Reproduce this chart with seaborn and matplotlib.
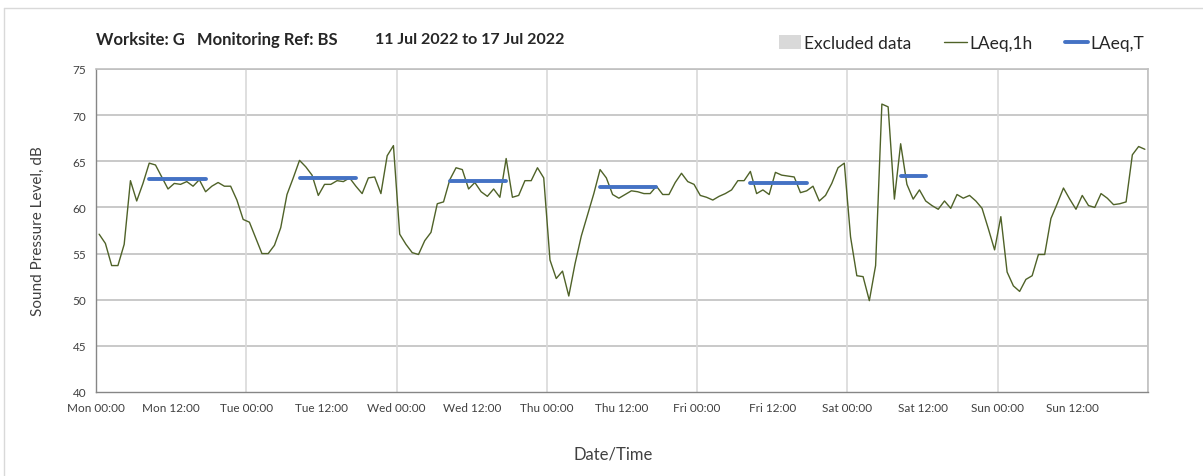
import numpy as np
import pandas as pd
import matplotlib
matplotlib.use("Agg")
import matplotlib.pyplot as plt
from matplotlib.patches import Patch
from matplotlib.lines import Line2D
import seaborn as sns

# Hourly LAeq,1h (dB), Mon 11 Jul 2022 00:00 .. Sun 17 Jul 2022 23:00
laeq_1h = [
    57.1, 56.1, 53.7, 53.7, 56.0, 62.9, 60.7, 62.6, 64.8, 64.6, 63.3, 62.0,
    62.6, 62.5, 62.8, 62.3, 63.0, 61.7, 62.3, 62.7, 62.3, 62.3, 60.8, 58.7,
    58.4, 56.7, 55.0, 55.0, 55.9, 57.8, 61.4, 63.2, 65.1, 64.4, 63.5, 61.3,
    62.5, 62.5, 62.9, 62.8, 63.2, 62.3, 61.5, 63.2, 63.3, 61.5, 65.6, 66.7,
    57.1, 56.0, 55.1, 54.9, 56.4, 57.3, 60.4, 60.6, 63.0, 64.3, 64.1, 62.0,
    62.7, 61.7, 61.2, 62.0, 61.1, 65.3, 61.1, 61.3, 62.9, 62.9, 64.3, 63.2,
    54.3, 52.3, 53.1, 50.4, 53.9, 56.9, 59.2, 61.5, 64.1, 63.2, 61.4, 61.0,
    61.4, 61.8, 61.7, 61.5, 61.5, 62.3, 61.4, 61.4, 62.7, 63.7, 62.8, 62.5,
    61.3, 61.1, 60.8, 61.2, 61.5, 61.9, 62.9, 62.9, 63.9, 61.5, 61.9, 61.4,
    63.8, 63.5, 63.4, 63.3, 61.6, 61.8, 62.3, 60.7, 61.3, 62.6, 64.3, 64.8,
    56.8, 52.6, 52.5, 49.9, 53.7, 71.2, 70.9, 60.9, 66.9, 62.5, 60.9, 61.9,
    60.7, 60.2, 59.8, 60.7, 59.9, 61.4, 61.0, 61.3, 60.7, 59.9, 57.7, 55.4,
    59.0, 53.0, 51.5, 50.9, 52.2, 52.6, 54.9, 54.9, 58.8, 60.4, 62.1, 60.9,
    59.8, 61.3, 60.2, 60.0, 61.5, 61.0, 60.3, 60.4, 60.6, 65.7, 66.6, 66.3,
]

# Daytime LAeq,T per day and the hours it covers
laeq_t_day = [0, 1, 2, 3, 4, 5]  # Mon..Sat
laeq_t_value = [63.1, 63.2, 62.9, 62.2, 62.7, 63.4]
laeq_t_from = [8, 8, 8, 8, 8, 8]
laeq_t_to = [17, 17, 17, 17, 17, 12]

start = pd.Timestamp("2022-07-11 00:00")
tick_times = pd.date_range(start, periods=15, freq="12h")
tick_labels = [t.strftime("%a %H:%M") for t in tick_times[:-1]] + [""]

# Excel draws each hourly value in the middle of its category
times = start + pd.Timedelta(minutes=30) + pd.to_timedelta(np.arange(len(laeq_1h)), unit="h")
df = pd.DataFrame({"time": times, "level": laeq_1h})

rows = []
for d, v, h0, h1 in zip(laeq_t_day, laeq_t_value, laeq_t_from, laeq_t_to):
    for h in range(h0, h1 + 1):
        rows.append({"day": d, "time": times[d * 24 + h], "level": v})
df_t = pd.DataFrame(rows)

sns.set_style("white")
plt.rcParams["font.family"] = ["Lato", "DejaVu Sans"]

fig = plt.figure(figsize=(12.03, 4.77), dpi=100)
ax = fig.add_axes([96 / 1203, 1 - 393 / 477, 1052 / 1203, 323 / 477])

# Gridlines
for y in range(45, 76, 5):
    ax.axhline(y, color="#c0c0c0", lw=1.2, zorder=0)
for t in pd.date_range(start, periods=8, freq="D")[1:]:
    ax.axvline(t, color="#d9d9d9", lw=1.2, zorder=0)

sns.lineplot(data=df, x="time", y="level", color="#4f6228", lw=1.0, ax=ax, zorder=3)
sns.lineplot(data=df_t, x="time", y="level", units="day", estimator=None,
             color="#4472c4", lw=2.8, ax=ax, zorder=4)

ax.set_xlim(start, start + pd.Timedelta(days=7))
ax.set_ylim(40, 75)
ax.set_yticks(range(40, 76, 5))
ax.set_xticks(tick_times)
ax.set_xticklabels(tick_labels)
ax.tick_params(axis="both", direction="out", length=4, width=1, color="#868686",
               labelsize=8.5, labelcolor="#404040", pad=3)

for side in ["left", "bottom"]:
    ax.spines[side].set_color("#868686")
    ax.spines[side].set_linewidth(1.0)
for side in ["top", "right"]:
    ax.spines[side].set_color("#c0c0c0")
    ax.spines[side].set_linewidth(1.2)

ax.set_ylabel("Sound Pressure Level, dB", fontsize=11, color="#404040")
ax.yaxis.set_label_coords(-0.049, 0.5)
ax.set_xlabel("Date/Time", fontsize=12, color="#404040")
ax.xaxis.set_label_coords(0.492, -0.165)

fig.text(96 / 1203, 1 - 40 / 477, "Worksite: G   Monitoring Ref: BS", fontsize=12,
         fontweight="bold", va="center", ha="left")
fig.text(375 / 1203, 1 - 40 / 477, "11 Jul 2022 to 17 Jul 2022", fontsize=11.5,
         fontweight="bold", va="center", ha="left")

handles = [
    Patch(facecolor="#d9d9d9", edgecolor="none"),
    Line2D([], [], color="#4f6228", lw=1.0),
    Line2D([], [], color="#4472c4", lw=2.8),
]
fig.legend(handles, ["Excluded data", "LAeq,1h", "LAeq,T"], ncol=3, frameon=False,
           loc="center right", bbox_to_anchor=(1160 / 1203, 1 - 44 / 477),
           fontsize=12.5, handlelength=1.3, handleheight=0.8, handletextpad=0.15,
           columnspacing=1.9, labelcolor="#262626")

# light chart-area border (top and left edges)
fig.add_artist(Line2D([4 / 1203, 4 / 1203], [0, 1 - 9 / 477], transform=fig.transFigure,
                      color="#d9d9d9", lw=1.0))
fig.add_artist(Line2D([4 / 1203, 1], [1 - 9 / 477, 1 - 9 / 477], transform=fig.transFigure,
                      color="#d9d9d9", lw=1.0))

fig.savefig("out.png", dpi=100)
